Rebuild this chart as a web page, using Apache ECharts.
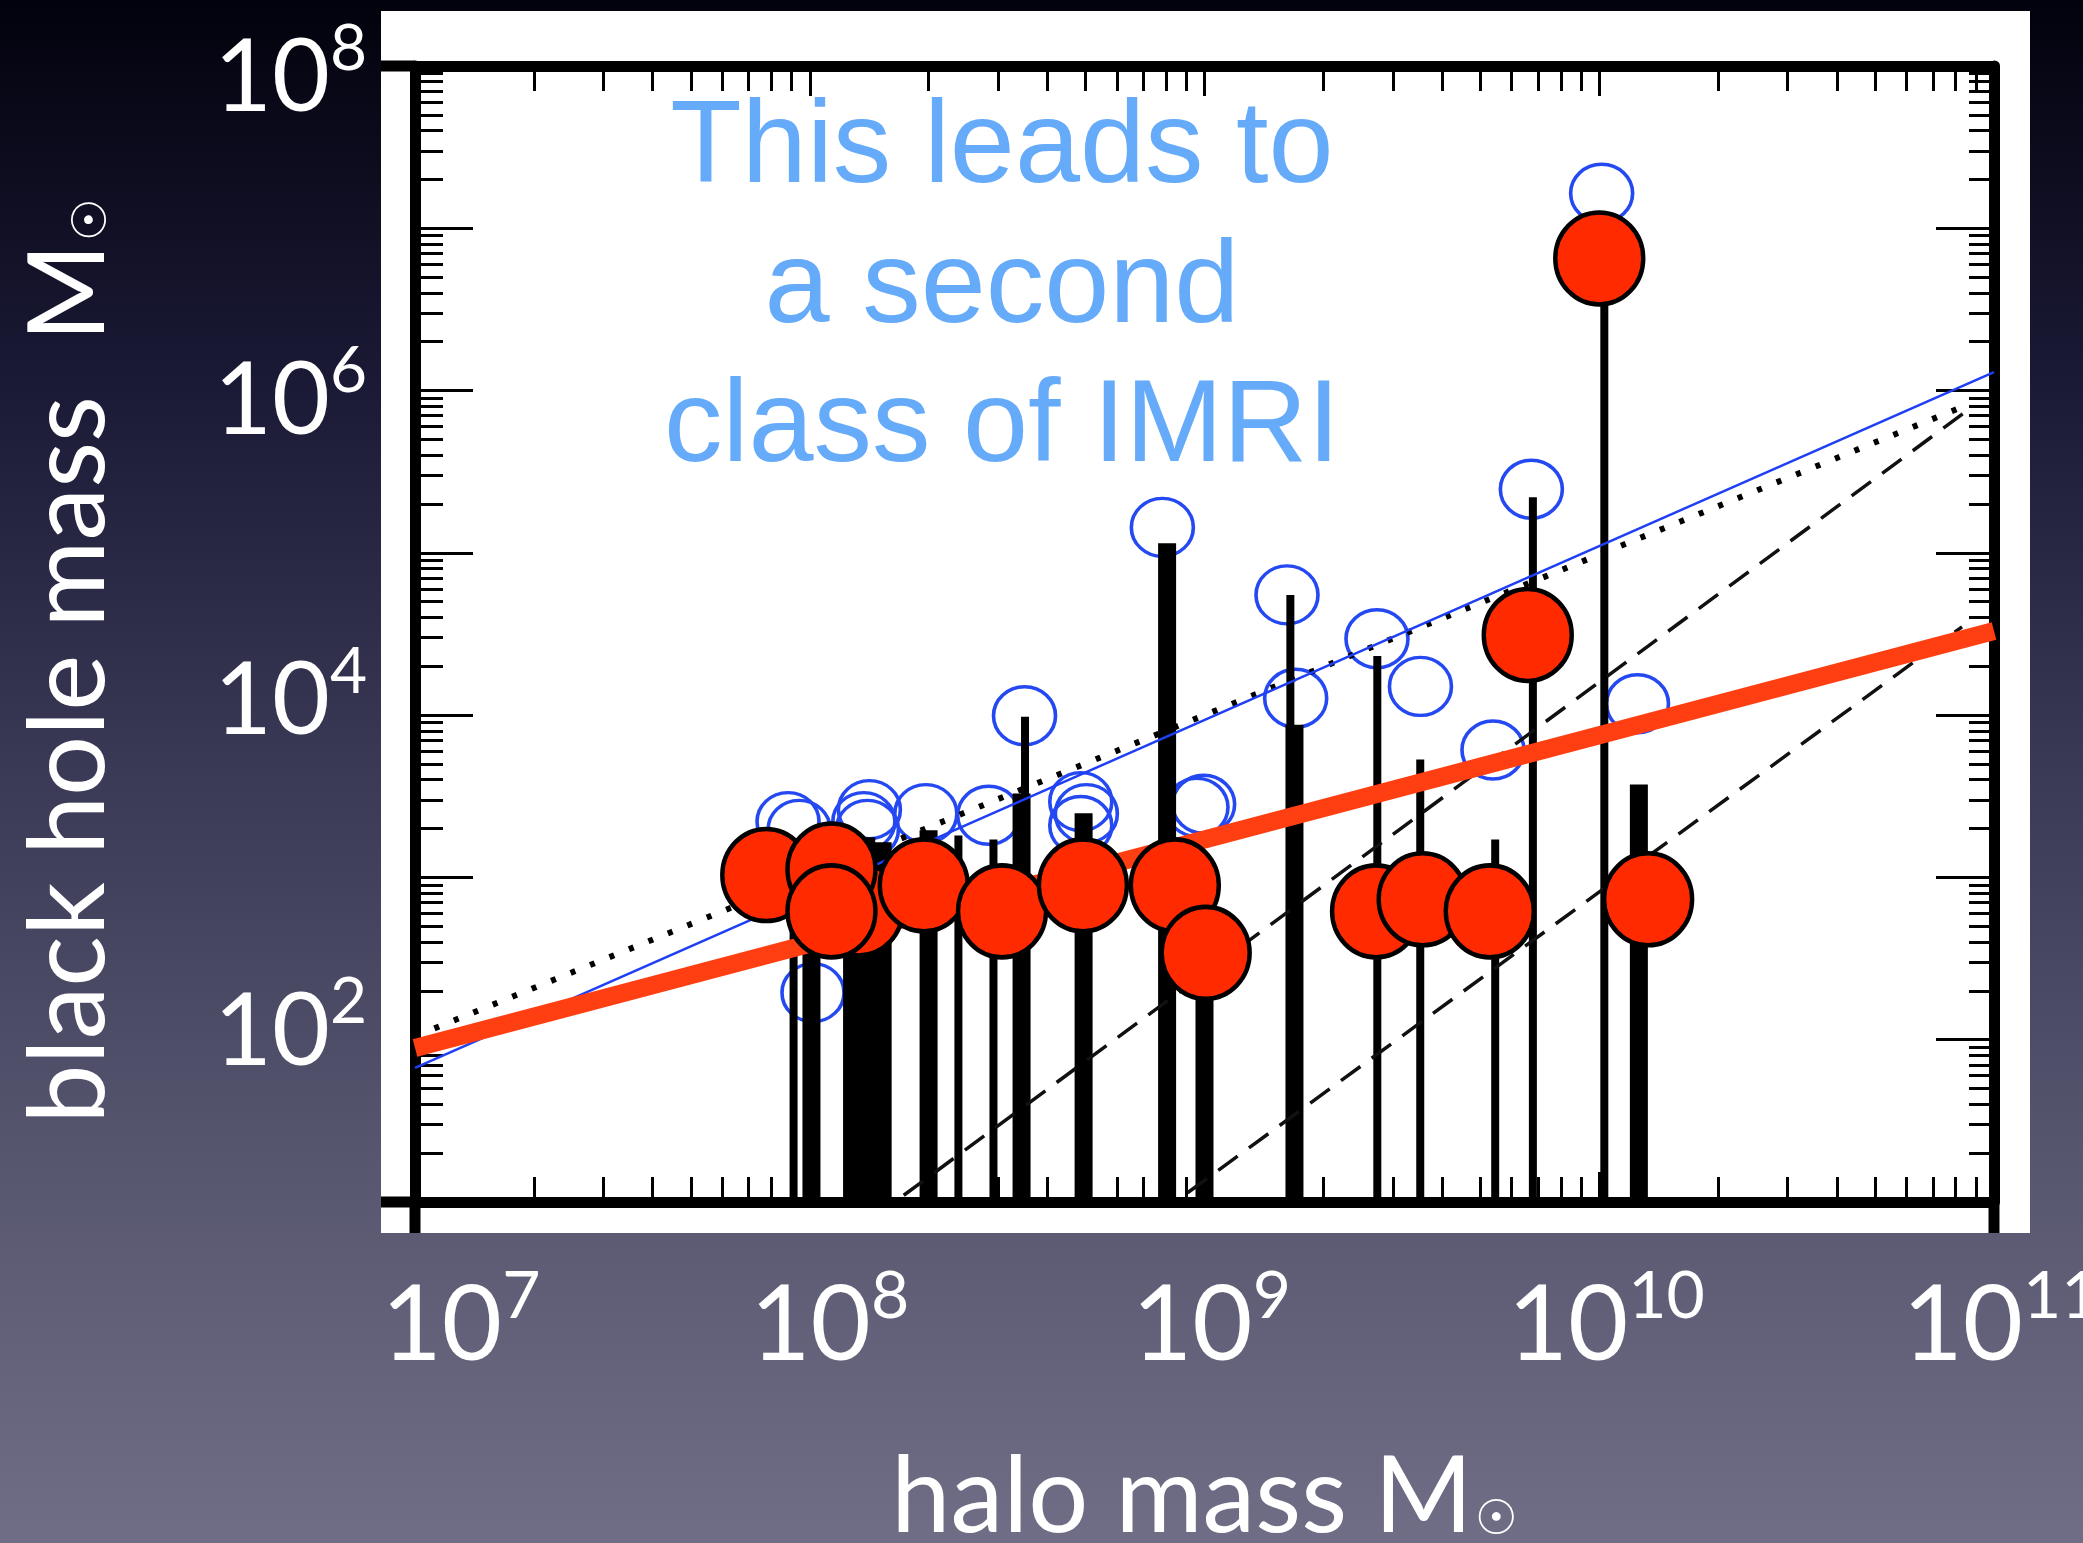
<!DOCTYPE html>
<html>
<head>
<meta charset="utf-8">
<script src="https://cdn.jsdelivr.net/npm/echarts@6/dist/echarts.min.js"></script>
<style>
  html, body { margin: 0; padding: 0; }
  #chart { width: 2083px; height: 1543px; }
</style>
</head>
<body>
<div id="chart"></div>
<script>
// Axis decades shown as labels (powers of ten)
const haloTickExponents = [7, 8, 9, 10, 11];
const bhTickExponents = [2, 4, 6, 8];

// Filled points: black hole mass vs host halo mass (solar masses)
const filledHalo = [7.76e7, 1.33e8, 1.135e8, 1.135e8, 1.945e8, 3.07e8, 4.92e8, 8.41e8, 1.007e9, 2.72e9, 3.57e9, 5.28e9, 6.59e9, 1.0e10, 1.33e10];
const filledBH   = [1035, 635, 1119, 618, 893, 618, 893, 893, 343, 618, 733, 618, 31190, 6.52e6, 733];

// Open points
const openHalo = [1.014e10, 6.73e9, 7.82e8, 1.618e9, 2.735e9, 3.524e9, 1.702e9, 3.50e8, 1.25e10, 5.38e9, 9.95e8, 9.57e8, 4.86e8, 5.02e8, 4.86e8, 2.84e8, 1.968e8, 1.416e8, 1.371e8, 1.40e8, 8.81e7, 9.40e7, 1.019e8];
const openBH   = [1.644e7, 2.466e5, 1.435e5, 5.508e4, 2.958e4, 1.503e4, 1.27e4, 9908, 1.175e4, 6095, 2825, 2704, 2931, 2472, 2089, 2415, 2472, 2618, 2208, 1977, 2208, 1977, 195];

// Vertical ranges rising from the bottom of the plot (narrow and wide)
const thinHalo = [9.1e7, 2.38e8, 2.92e8, 3.51e8, 1.65e9, 2.74e9, 3.52e9, 5.45e9, 6.79e9, 1.03e10];
const thinTop  = [1028, 1811, 1714, 9772, 54954, 23174, 5321, 1714, 220291, 6.58e6];
const wideHalo = [1.01e8, 1.28e8, 1.39e8, 1.53e8, 2.00e8, 3.44e8, 4.94e8, 8.04e8, 1.00e9, 1.69e9, 1.26e10];
const wideTop  = [957, 1694, 1766, 1648, 1950, 3289, 2483, 114551, 356, 8730, 3733];

// Relations drawn as straight lines in log-log space
const redFitHalo = [1e7, 1e11];
const redFitBH   = [89, 33000];
const blueFitHalo = [1e7, 1e11];
const blueFitBH   = [67, 1.3e6];
const dottedHalo = [1.0e7, 8.7e10];
const dottedBH   = [105, 8.3e5];
const dashedUpperHalo = [1.73e8, 8.6e10];
const dashedUpperBH   = [11, 7.6e5];
const dashedLowerHalo = [9.06e8, 8.3e10];
const dashedLowerBH   = [11.4, 3.5e4];

const X_MIN = 1e7, X_MAX = 1e11, Y_MIN = 10, Y_MAX = 1e8;

function decades(lo, hi) {
  const out = [];
  for (let e = lo; e <= hi; e++) out.push(Math.pow(10, e));
  return out;
}
function minorValues(lo, hi) {
  const out = [];
  for (let e = lo; e < hi; e++) for (let k = 2; k <= 9; k++) out.push(k * Math.pow(10, e));
  return out;
}
const pairs = (xs, ys) => xs.map((x, i) => [x, ys[i]]);

const white = '#ffffff';
const labelFont = 'Lato, "Open Sans", sans-serif';
const haloRich = {
  b: { fontSize: 104, fontFamily: labelFont, color: white, lineHeight: 124 },
  e: { fontSize: 66, fontFamily: labelFont, color: white, lineHeight: 124, verticalAlign: 'top' },
  g7: { width: 92, lineHeight: 124 },
  g8: { width: 40, lineHeight: 124 },
  g: { width: 14, lineHeight: 124 }
};
const bhRich = {
  b: { fontSize: 100, fontFamily: labelFont, color: white, lineHeight: 124 },
  e: { fontSize: 64, fontFamily: labelFont, color: white, lineHeight: 124, verticalAlign: 'top' },
  sp26: { fontSize: 1, lineHeight: 26 },
  sp22: { fontSize: 1, lineHeight: 22 },
  sp14: { fontSize: 1, lineHeight: 14 }
};
// x labels sit slightly right of their ticks, the first two a little more
function haloLabel(v) {
  const e = Math.round(Math.log10(v));
  if (haloTickExponents.indexOf(e) < 0) return '';
  const gap = e === 7 ? 'g7' : (e === 8 ? 'g8' : 'g');
  return '{' + gap + '|}{b|10}{e|' + e + '}';
}
// y labels: upper two sit a little below their ticks, lower two a little above
const bhLabelSpacer = { 8: ['sp26', 'above'], 6: ['sp22', 'above'], 4: ['sp26', 'below'], 2: ['sp14', 'below'] };
function bhLabel(v) {
  const e = Math.round(Math.log10(v));
  if (bhTickExponents.indexOf(e) < 0) return '';
  const main = '{b|10}{e|' + e + '}';
  const sp = bhLabelSpacer[e];
  if (!sp) return main;
  const pad = '{' + sp[0] + '| }';
  return sp[1] === 'above' ? pad + '\n' + main : main + '\n' + pad;
}

const FRAME_W = 11;
const frame = { show: true, onZero: false, lineStyle: { color: '#000', width: FRAME_W } };
const noLine = { show: false };
const tickStyle = { color: '#000', width: 3 };
const nameRich = {
  n: { fontSize: 106, fontFamily: labelFont, color: white, lineHeight: 120 },
  s: { fontSize: 48, fontFamily: '"DejaVu Sans"', color: white, lineHeight: 120, verticalAlign: 'bottom', padding: [0, 0, 12, 2] }
};

function xAxisDef(position, major, withLabels) {
  const ax = {
    type: 'log', logBase: 10, min: X_MIN, max: X_MAX, gridIndex: 0, position,
    axisLine: major ? frame : noLine,
    splitLine: { show: false },
    axisTick: {
      show: true, inside: true, length: major ? 30 : 25, lineStyle: tickStyle,
      customValues: major ? decades(7, 11) : minorValues(7, 11)
    },
    axisLabel: { show: false }
  };
  if (withLabels) {
    ax.axisLabel = {
      show: true, margin: 62,
      customValues: haloTickExponents.map(e => Math.pow(10, e)),
      formatter: haloLabel, rich: haloRich
    };
    ax.name = '{n|halo mass M}{s|\u2609}';
    ax.nameLocation = 'middle';
    ax.nameGap = 236;
    ax.nameTextStyle = { rich: nameRich };
  }
  return ax;
}

function yAxisDef(position, major, withLabels) {
  const ax = {
    type: 'log', logBase: 10, min: Y_MIN, max: Y_MAX, gridIndex: 0, position,
    axisLine: major ? frame : noLine,
    splitLine: { show: false },
    axisTick: {
      show: true, inside: true, length: major ? 58 : (position === 'left' ? 28 : 25), lineStyle: tickStyle,
      customValues: major ? decades(1, 8) : minorValues(1, 8)
    },
    axisLabel: { show: false }
  };
  if (withLabels) {
    ax.axisLabel = {
      show: true, margin: 48,
      customValues: bhTickExponents.map(e => Math.pow(10, e)),
      formatter: bhLabel, rich: bhRich
    };
    ax.name = '{n|black hole mass  M}{s|\u2609}';
    ax.nameLocation = 'middle';
    ax.nameRotate = 90;
    ax.nameGap = 285;
    ax.nameTextStyle = { rich: nameRich, padding: [0, 54, 0, 0] };
  }
  return ax;
}

function stemSeries(halo, top, barWidth) {
  return {
    type: 'custom', xAxisIndex: 0, yAxisIndex: 0, z: 3, silent: true,
    data: pairs(halo, top),
    encode: { x: 0, y: 1 },
    renderItem(params, api) {
      const p0 = api.coord([api.value(0), api.value(1)]);
      const p1 = api.coord([api.value(0), Y_MIN]);
      return {
        type: 'rect',
        shape: { x: p0[0] - barWidth / 2, y: p0[1], width: barWidth, height: p1[1] - p0[1] },
        style: { fill: '#000' }
      };
    }
  };
}

function lineSeries(xs, ys, lineStyle, z) {
  return {
    type: 'line', xAxisIndex: 0, yAxisIndex: 0, z, silent: true,
    showSymbol: false, symbol: 'none',
    data: pairs(xs, ys), lineStyle
  };
}

// White panel that holds the plot
const PANEL = { x: 381, y: 11, width: 1649, height: 1222 };

const chart = echarts.init(document.getElementById('chart'), null, { renderer: 'canvas' });
chart.setOption({
  animation: false,
  backgroundColor: {
    type: 'linear', x: 0, y: 0, x2: 0, y2: 1,
    colorStops: [
      { offset: 0, color: '#02020d' },
      { offset: 0.25, color: '#1b1a36' },
      { offset: 0.5, color: '#3a3956' },
      { offset: 0.75, color: '#57566f' },
      { offset: 1, color: '#706e86' }
    ]
  },
  graphic: [
    { id: 'panel', type: 'rect', z: -1, silent: true,
      shape: PANEL, style: { fill: '#ffffff' } },
    { id: 'note', type: 'text', z: 10, silent: true, x: 1002, y: 80,
      style: {
        text: 'This leads to\na second\nclass of IMRI',
        align: 'center', verticalAlign: 'top',
        font: '117px "Liberation Sans", Arial, sans-serif',
        lineHeight: 139.5, fill: '#66abf9'
      } }
  ],
  grid: { left: 415, right: 89, top: 66, bottom: 341, containLabel: false, outerBoundsMode: 'none' },
  xAxis: [
    xAxisDef('bottom', true, true),
    xAxisDef('bottom', false, false),
    xAxisDef('top', true, false),
    xAxisDef('top', false, false)
  ],
  yAxis: [
    yAxisDef('left', true, true),
    yAxisDef('left', false, false),
    yAxisDef('right', true, false),
    yAxisDef('right', false, false)
  ],
  series: [
    {
      type: 'scatter', xAxisIndex: 0, yAxisIndex: 0, z: 2, silent: true,
      symbol: 'circle', symbolSize: [62, 58],
      itemStyle: { color: 'rgba(0,0,0,0)', borderColor: '#2448f2', borderWidth: 3.5, opacity: 1 },
      data: pairs(openHalo, openBH)
    },
    stemSeries(thinHalo, thinTop, 8),
    stemSeries(wideHalo, wideTop, 18),
    lineSeries(dashedUpperHalo, dashedUpperBH, { color: '#111', width: 3.5, type: [24, 14] }, 4),
    lineSeries(dashedLowerHalo, dashedLowerBH, { color: '#111', width: 3.5, type: [24, 14] }, 4),
    lineSeries(dottedHalo, dottedBH, { color: '#000', width: 6, type: [5, 16] }, 4),
    lineSeries(blueFitHalo, blueFitBH, { color: '#1f3ff5', width: 2.5 }, 4),
    lineSeries(redFitHalo, redFitBH, { color: '#ff3f12', width: 18 }, 5),
    {
      type: 'scatter', xAxisIndex: 0, yAxisIndex: 0, z: 6, silent: true,
      symbol: 'circle', symbolSize: [88, 92],
      itemStyle: { color: '#ff2a00', borderColor: '#000', borderWidth: 4.5, opacity: 1 },
      data: pairs(filledHalo, filledBH)
    }
  ]
});

// The frame lines run on to the edges of the white panel
const lowCorner = chart.convertToPixel({ xAxisIndex: 0, yAxisIndex: 0 }, [X_MIN, Y_MIN]);
const highCorner = chart.convertToPixel({ xAxisIndex: 0, yAxisIndex: 0 }, [X_MAX, Y_MAX]);
const panelBottom = PANEL.y + PANEL.height;
const frameStyle = { stroke: '#000', lineWidth: FRAME_W };
chart.setOption({
  graphic: [
    { id: 'topRun', type: 'line', z: 5, silent: true,
      shape: { x1: PANEL.x, y1: highCorner[1], x2: lowCorner[0], y2: highCorner[1] }, style: frameStyle },
    { id: 'bottomRun', type: 'line', z: 5, silent: true,
      shape: { x1: PANEL.x, y1: lowCorner[1], x2: lowCorner[0], y2: lowCorner[1] }, style: frameStyle },
    { id: 'leftRun', type: 'line', z: 5, silent: true,
      shape: { x1: lowCorner[0], y1: lowCorner[1], x2: lowCorner[0], y2: panelBottom }, style: frameStyle },
    { id: 'rightRun', type: 'line', z: 5, silent: true,
      shape: { x1: highCorner[0], y1: lowCorner[1], x2: highCorner[0], y2: panelBottom }, style: frameStyle }
  ]
});
</script>
</body>
</html>
